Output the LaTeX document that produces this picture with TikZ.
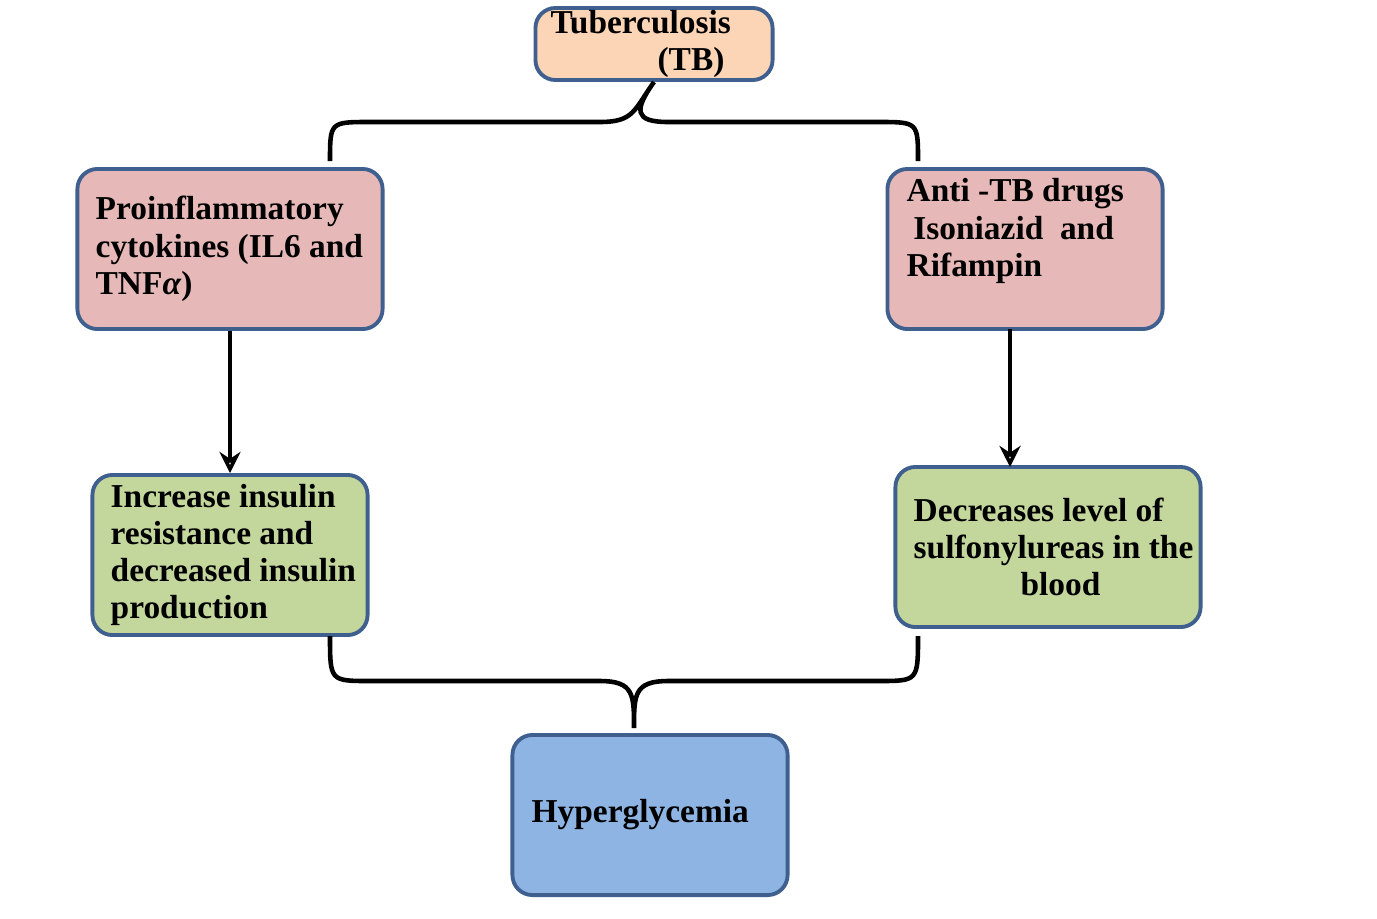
\documentclass[tikz,border=0pt]{standalone}
\usepackage{fontspec}
\setmainfont{Liberation Serif}
\usetikzlibrary{positioning,arrows.meta}
\definecolor{tbfill}{HTML}{FBD5B5}
\definecolor{redfill}{HTML}{E6B9B8}
\definecolor{greenfill}{HTML}{C3D69B}
\definecolor{bluefill}{HTML}{8EB4E3}
\definecolor{edgeblue}{HTML}{3F5F8F}
\tikzset{
  box/.style={draw=edgeblue, line width=1.1pt, rounded corners=0.2cm, inner sep=0pt},
  txt/.style={font=\bfseries\fontsize{9.5}{10.6}\selectfont, align=left, inner sep=0pt},
  brace/.style={line width=1.3pt},
  arr/.style={line width=1.3pt, -{Stealth[length=6pt,width=6pt,open]}}
}
\begin{document}
\begin{tikzpicture}[x=0.01cm,y=-0.01cm]
  \useasboundingbox (0,0) rectangle (1377,918);

  % Boxes
  \node[box, fill=tbfill, minimum width=2.37cm, minimum height=0.72cm] (tb) at (654,44) {};
  \node[txt, anchor=west] (tbtext) at (550,44) {Tuberculosis\\\hspace*{3.2em}(TB)};

  \node[box, fill=redfill, minimum width=3.05cm, minimum height=1.6cm] (pro) at (230,249) {};
  \node[txt, anchor=west] (protext) at (95,249) {Proinflammatory\\cytokines (IL6 and\\TNF\textit{α})};

  \node[box, fill=redfill, minimum width=2.75cm, minimum height=1.6cm] (drug) at (1025,249) {};
  \node[txt, anchor=west] (drugtext) at (906,231) {Anti -TB drugs\\\hspace*{0.2em}Isoniazid\ \ and\\Rifampin};

  \node[box, fill=greenfill, minimum width=2.75cm, minimum height=1.6cm] (ins) at (230,555) {};
  \node[txt, anchor=west] (instext) at (110,555) {Increase insulin\\resistance and\\decreased insulin\\production};

  \node[box, fill=greenfill, minimum width=3.05cm, minimum height=1.6cm] (sulf) at (1048,547) {};
  \node[txt, anchor=west] (sulftext) at (913,547) {Decreases level of\\sulfonylureas in the\\\hspace*{3.2em}blood};

  \node[box, fill=bluefill, minimum width=2.75cm, minimum height=1.6cm] (hyp) at (650,815) {};
  \node[txt, anchor=west] (hyptext) at (531,815) {Hyperglycemia};

  % Brace and arrow points
  \coordinate (topl) at (330,161);
  \coordinate (topr) at (918,161);
  \coordinate (botl) at (330,636);
  \coordinate (botr) at (918,636);
  \coordinate (drugout) at (1010,329);
  \coordinate (sulfin) at (1010,467);

  % Top brace
  \draw[brace] (topl) .. controls (330,122) and (330,122) .. (370,122) -- (600,122)
    .. controls (634,122) and (634,110) .. (tb.south)
    .. controls (634,110) and (634,122) .. (668,122) -- (878,122)
    .. controls (918,122) and (918,122) .. (topr);

  % Bottom brace
  \draw[brace] (botl) .. controls (330,681) and (330,681) .. (370,681) -- (600,681)
    .. controls (634,681) and (634,695) .. (634,728)
    .. controls (634,695) and (634,681) .. (668,681) -- (878,681)
    .. controls (918,681) and (918,681) .. (botr);

  % Arrows
  \draw[arr] (pro.south) -- (ins.north);
  \draw[arr] (drugout) -- (sulfin);
\end{tikzpicture}
\end{document}
